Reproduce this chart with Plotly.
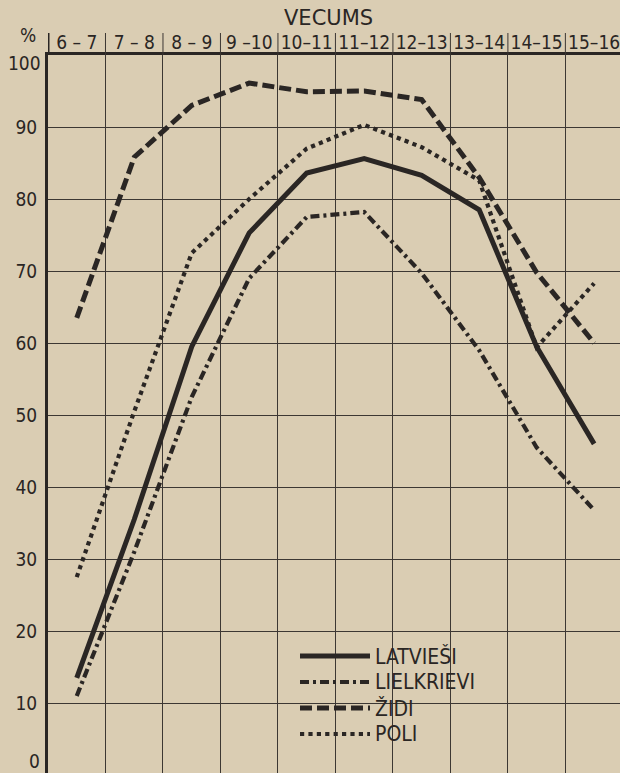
import plotly.graph_objects as go

ages = ["6 – 7", "7 – 8", "8 – 9", "9 –10", "10–11", "11–12", "12–13", "13–14", "14–15", "15–16"]
latviesi = [13.5, 35.5, 59.5, 75.3, 83.6, 85.6, 83.3, 78.5, 59.5, 46.0]
lielkrievi = [11.0, 31.0, 52.5, 69.0, 77.5, 78.2, 69.7, 59.0, 45.5, 36.8]
zidi = [63.5, 85.8, 93.0, 96.1, 94.9, 95.0, 93.8, 83.0, 69.8, 60.0]
poli = [27.5, 50.5, 72.5, 80.0, 87.0, 90.3, 87.2, 82.6, 59.4, 68.3]
names = ["LATVIEŠI", "LIELKRIEVI", "ŽIDI", "POLI"]
y_ticks = [10, 20, 30, 40, 50, 60, 70, 80, 90]

INK = "#2a2624"
BG = "#dacdb3"
FONT = "DejaVu Sans Condensed, Liberation Sans Narrow, DejaVu Sans, sans-serif"
FONT_WIDE = "DejaVu Sans, sans-serif"

styles = [
    dict(width=5, dash="solid"),
    dict(width=4.2, dash="9px,4px,3px,4px"),
    dict(width=5, dash="12px,5px"),
    dict(width=4.2, dash="dot"),
]
series = [latviesi, lielkrievi, zidi, poli]

fig = go.Figure()
for name, vals, st in zip(names, series, styles):
    fig.add_trace(go.Scatter(
        x=ages, y=vals, name=name, mode="lines",
        line=dict(color=INK, width=st["width"], dash=st["dash"]),
        showlegend=False,
    ))

W, H = 620, 773
L, T = 48, 55
pw, ph = W - L, H - T


def px_x(p):
    return (p - L) / pw


def px_y(p):
    return (H - p) / ph


# column separators extending into the header row
for k in range(len(ages)):
    fig.add_shape(type="line", xref="x", yref="paper",
                  x0=k - 0.5, x1=k - 0.5, y0=px_y(55), y1=px_y(33),
                  line=dict(color=INK if k == 0 else "#3c3733", width=3 if k == 0 else 1))

# custom legend
leg_y = [656, 682, 708, 734]
for name, st, yy in zip(names, styles, leg_y):
    fig.add_shape(type="line", xref="paper", yref="paper",
                  x0=px_x(300), x1=px_x(370), y0=px_y(yy), y1=px_y(yy),
                  line=dict(color=INK, width=st["width"], dash=st["dash"]))
    fig.add_annotation(xref="paper", yref="paper", x=px_x(373), y=px_y(yy),
                       text=name, showarrow=False, xanchor="left", yanchor="middle",
                       font=dict(family=FONT, size=21, color=INK))

fig.add_annotation(xref="paper", yref="paper", x=px_x(328), y=px_y(18),
                   text="VECUMS", showarrow=False, xanchor="center", yanchor="middle",
                   font=dict(family=FONT_WIDE, size=21, color=INK))
fig.add_annotation(xref="paper", yref="paper", x=px_x(28), y=px_y(35),
                   text="%", showarrow=False, xanchor="center", yanchor="middle",
                   font=dict(family=FONT, size=19, color=INK))
fig.add_annotation(xref="paper", yref="paper", x=px_x(43), y=px_y(63),
                   text="100", showarrow=False, xanchor="right", yanchor="middle",
                   font=dict(family=FONT, size=19, color=INK))
fig.add_annotation(xref="paper", yref="paper", x=px_x(42), y=px_y(761),
                   text="0", showarrow=False, xanchor="right", yanchor="middle",
                   font=dict(family=FONT, size=19, color=INK))

fig.update_layout(
    width=W, height=H,
    margin=dict(l=L, r=0, t=T, b=0, pad=0, autoexpand=False),
    paper_bgcolor=BG, plot_bgcolor=BG,
    xaxis=dict(type="category", side="top", range=[-0.5, 9.45],
               tickson="boundaries", showgrid=True, gridcolor="#3c3733", gridwidth=1,
               showline=True, linecolor=INK, linewidth=3, ticks="",
               tickangle=0, automargin=False,
               tickfont=dict(family=FONT, size=19, color=INK), zeroline=False,
               ticklabelstandoff=-5, fixedrange=True),
    yaxis=dict(range=[0.3, 100], tickvals=y_ticks, ticktext=[str(v) for v in y_ticks],
               showgrid=True, gridcolor="#3c3733", gridwidth=1,
               showline=True, linecolor=INK, linewidth=3, ticks="",
               automargin=False,
               tickfont=dict(family=FONT, size=19, color=INK), zeroline=False,
               ticklabelstandoff=4, fixedrange=True),
)

fig.write_html("out.html", config={"displayModeBar": False, "staticPlot": True},
               post_script="document.body.style.margin='0';document.body.style.overflow='hidden';")
